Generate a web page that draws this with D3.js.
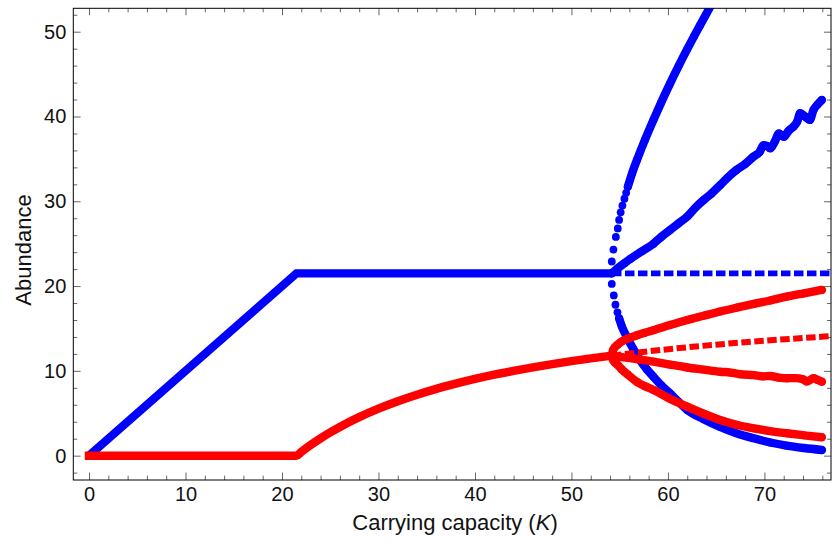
<!DOCTYPE html>
<html>
<head>
<meta charset="utf-8">
<script src="https://cdn.jsdelivr.net/npm/d3@7"></script>
<style>
  body { margin: 0; background: #fff; }
  svg text { font-family: "Liberation Sans", Arial, Helvetica, sans-serif; fill: #111; }
</style>
</head>
<body>
<div id="chart"></div>
<script>
// prey (blue) and predator (red) equilibria, stable part
var preyEqK = [0, 21.5, 54.2]
var preyEq = [0, 21.5, 21.5]
var predEqK = [0, 21.5, 22, 23, 24, 25, 26, 28, 30, 32, 34, 36, 38, 40, 42, 44, 46, 48, 50, 52, 54.2]
var predEq = [0, 0, 0.44, 1.28, 2.04, 2.74, 3.39, 4.54, 5.54, 6.42, 7.19, 7.88, 8.49, 9.05, 9.55, 10.0, 10.42, 10.8, 11.15, 11.47, 11.8]

// unstable equilibria (dashed)
var preyUnstK = [54.2, 77]
var preyUnst = [21.5, 21.5]
var predUnstK = [54.2, 58, 62, 66, 70, 74, 77]
var predUnst = [11.8, 12.31, 12.78, 13.19, 13.55, 13.88, 14.1]

// limit cycle: prey max / min / mean
var preyMaxK = [54.18, 54.35, 54.6, 54.8, 54.94, 55.1, 55.28, 55.49, 55.67, 55.84, 56.3, 56.8, 57.6, 58.5, 59.3, 60.2, 61.1, 62.0, 62.7, 63.3, 64.5]
var preyMax = [22.9, 24.3, 25.8, 26.8, 27.8, 28.7, 29.5, 30.3, 31.0, 31.7, 33.35, 34.9, 37.2, 39.6, 41.65, 43.85, 45.95, 47.95, 49.45, 50.7, 53.2]
var preyMinK = [54.18, 54.39, 54.56, 54.77, 54.94, 55.2, 55.74, 56.4, 57.1, 57.8, 58.5, 59.3, 60.2, 61.1, 62.0, 63.7, 65.4, 67.1, 68.9, 70.6, 72.3, 74.1, 75.95]
var preyMin = [20.25, 18.9, 17.8, 16.9, 16.2, 15.3, 14.0, 12.6, 11.3, 10.2, 9.3, 8.3, 7.36, 6.35, 5.4, 4.3, 3.4, 2.65, 2.05, 1.55, 1.18, 0.9, 0.67]
var preyMeanK = [54.2, 54.8, 55.5, 56.1, 57.3, 58.5, 59.3, 60.2, 61.1, 62.0, 62.8, 63.7, 64.5, 65.4, 66.2, 67.1, 68.0, 68.9, 69.5, 69.9, 70.3, 70.6, 71.1, 71.5, 72.0, 72.5, 73.0, 73.4, 73.7, 74.2, 74.7, 75.1, 75.5, 75.95]
var preyMean = [21.5, 22.1, 22.7, 23.2, 24.1, 25.0, 25.8, 26.6, 27.4, 28.2, 29.2, 30.15, 30.9, 31.9, 32.8, 33.7, 34.4, 35.3, 35.8, 36.6, 36.5, 36.25, 37.1, 38.0, 37.6, 38.3, 38.8, 39.4, 40.4, 40.0, 39.6, 40.8, 41.4, 41.95]

// limit cycle: predator max / min / mean
var predMaxK = [54.2, 54.3, 54.5, 54.8, 55.2, 55.8, 56.8, 57.6, 58.5, 60.2, 62.0, 63.7, 65.4, 67.1, 68.9, 70.6, 72.3, 74.1, 75.95]
var predMax = [11.8, 12.4, 12.8, 13.1, 13.45, 13.8, 14.2, 14.5, 14.8, 15.4, 16.0, 16.5, 17.0, 17.45, 17.9, 18.3, 18.75, 19.15, 19.55]
var predMinK = [54.2, 54.3, 54.5, 54.8, 55.2, 55.8, 56.8, 57.6, 58.5, 60.2, 62.0, 63.7, 65.4, 67.1, 68.9, 70.6, 72.3, 74.1, 75.95]
var predMin = [11.8, 11.3, 11.0, 10.7, 10.2, 9.6, 8.7, 8.2, 7.75, 6.7, 5.78, 4.95, 4.2, 3.65, 3.23, 2.9, 2.64, 2.4, 2.17]
var predMeanK = [54.2, 55.0, 56.1, 57.3, 58.5, 60.2, 62.0, 63.7, 65.4, 66.5, 67.5, 68.9, 69.8, 70.6, 71.5, 72.3, 73.2, 74.0, 74.4, 75.1, 75.5, 75.95]
var predMean = [11.8, 11.65, 11.5, 11.3, 11.1, 10.75, 10.4, 10.15, 9.9, 9.8, 9.6, 9.5, 9.35, 9.4, 9.2, 9.13, 9.15, 9.0, 8.75, 9.13, 8.95, 8.73]

var xMajor = [0, 10, 20, 30, 40, 50, 60, 70]
var yMajor = [0, 10, 20, 30, 40, 50]

var W = 832, H = 547
var mLeft = 73.3, mRight = 831, mTop = 8.3, mBottom = 480

var x = d3.scaleLinear().domain([-1.63, 76.9]).range([mLeft, mRight])
var y = d3.scaleLinear().domain([-2.87, 52.76]).range([mBottom, mTop])

var svg = d3.select('#chart').append('svg').attr('width', W).attr('height', H)

svg.append('clipPath').attr('id', 'plot')
  .append('rect').attr('x', mLeft).attr('y', mTop).attr('width', mRight - mLeft).attr('height', mBottom - mTop)

var zip = (ks, vs) => ks.map((k, i) => [k, vs[i]])
var line = d3.line().x(d => x(d[0])).y(d => y(d[1]))
var smooth = d3.line().x(d => x(d[0])).y(d => y(d[1])).curve(d3.curveMonotoneX)

var BLUE = '#0000ff', RED = '#ff0000'

// minor ticks every 2 units
var xMinor = d3.range(2, 77, 2).filter(v => v % 10 !== 0)
var yMinor = d3.range(-2, 53, 2).filter(v => v % 10 !== 0)

function axisStyle(sel) {
  sel.select('.domain').remove()
  sel.selectAll('line').attr('stroke', '#666')
  sel.selectAll('text').style('font-size', '20px').attr('fill', '#111')
}

svg.append('g').attr('transform', `translate(0,${mBottom})`)
  .call(d3.axisBottom(x).tickValues(xMajor).tickSize(-7.5).tickPadding(7)).call(axisStyle)
svg.append('g').attr('transform', `translate(0,${mBottom})`)
  .call(d3.axisBottom(x).tickValues(xMinor).tickSize(-4.3).tickFormat('')).call(axisStyle)
svg.append('g').attr('transform', `translate(0,${mTop})`)
  .call(d3.axisTop(x).tickValues(xMajor).tickSize(-7).tickFormat('')).call(axisStyle)
svg.append('g').attr('transform', `translate(0,${mTop})`)
  .call(d3.axisTop(x).tickValues(xMinor).tickSize(-4).tickFormat('')).call(axisStyle)
svg.append('g').attr('transform', `translate(${mLeft},0)`)
  .call(d3.axisLeft(y).tickValues(yMajor).tickSize(-7.3).tickPadding(7)).call(axisStyle)
svg.append('g').attr('transform', `translate(${mLeft},0)`)
  .call(d3.axisLeft(y).tickValues(yMinor).tickSize(-4).tickFormat('')).call(axisStyle)
svg.append('g').attr('transform', `translate(${mRight},0)`)
  .call(d3.axisRight(y).tickValues(yMajor).tickSize(-7).tickFormat('')).call(axisStyle)
svg.append('g').attr('transform', `translate(${mRight},0)`)
  .call(d3.axisRight(y).tickValues(yMinor).tickSize(-4).tickFormat('')).call(axisStyle)

var g = svg.append('g').attr('clip-path', 'url(#plot)')

// equilibria
g.append('path').attr('d', line(zip(preyEqK, preyEq)))
  .attr('fill', 'none').attr('stroke', BLUE).attr('stroke-width', 8.3).attr('stroke-linejoin', 'miter')
g.append('path').attr('d', line(zip(preyUnstK, preyUnst)))
  .attr('fill', 'none').attr('stroke', BLUE).attr('stroke-width', 5.8).attr('stroke-dasharray', '9.5,3.5')

// limit cycle branches: leading points shown as separate dots
function cycle(ks, vs, color, dotsOnly) {
  var pts = zip(ks, vs)
  g.append('path').attr('d', smooth(pts.slice(Math.max(dotsOnly - 1, 0))))
    .attr('fill', 'none').attr('stroke', color).attr('stroke-width', 8.4)
    .attr('stroke-linejoin', 'round').attr('stroke-linecap', 'round')
  g.append('g').selectAll('circle').data(pts).enter().append('circle')
    .attr('cx', d => x(d[0])).attr('cy', d => y(d[1])).attr('r', 3.9).attr('fill', color)
}
cycle(preyMaxK, preyMax, BLUE, 10)
cycle(preyMinK, preyMin, BLUE, 5)
cycle(preyMeanK, preyMean, BLUE, 0)

g.append('path').attr('d', smooth(zip(predEqK, predEq)))
  .attr('fill', 'none').attr('stroke', RED).attr('stroke-width', 8.5).attr('stroke-linecap', 'square')
g.append('path').attr('d', smooth(zip(predUnstK, predUnst)))
  .attr('fill', 'none').attr('stroke', RED).attr('stroke-width', 6).attr('stroke-dasharray', '9.5,3.5')

cycle(predMaxK, predMax, RED, 0)
cycle(predMinK, predMin, RED, 0)
cycle(predMeanK, predMean, RED, 0)

// frame
svg.append('rect').attr('x', mLeft).attr('y', mTop).attr('width', mRight - mLeft).attr('height', mBottom - mTop)
  .attr('fill', 'none').attr('stroke', '#000').attr('stroke-width', 1)

svg.append('text').attr('x', 455).attr('y', 530)
  .attr('text-anchor', 'middle').style('font-size', '22px')
  .html('Carrying capacity (<tspan font-style="italic">K</tspan>)')
svg.append('text').attr('transform', 'translate(31,250) rotate(-90)')
  .attr('text-anchor', 'middle').style('font-size', '22px').text('Abundance')
</script>
</body>
</html>
